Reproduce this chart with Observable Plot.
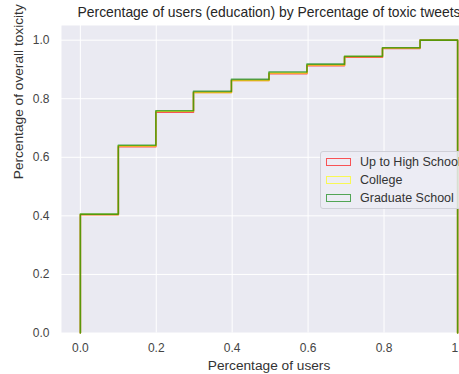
<!DOCTYPE html>
<html><head><meta charset="utf-8">
<script src="https://cdn.jsdelivr.net/npm/d3@7"></script>
<script src="https://cdn.jsdelivr.net/npm/@observablehq/plot@0.6"></script>
<style>
html,body{margin:0;padding:0;background:#fff;width:459px;height:374px;overflow:hidden;}
#wrap{position:relative;width:459px;height:374px;overflow:hidden;font-family:"Liberation Sans",Arial,sans-serif;}
#chart{width:478px;}
#chart svg{max-width:none !important;display:block;}
#legend{position:absolute;left:320px;top:151px;width:170px;height:58px;border:1px solid #d0d0d8;border-radius:3px;background:rgba(236,236,244,0.85);box-sizing:border-box;}
.row{position:absolute;left:0;height:18px;display:flex;align-items:center;font-size:12.5px;color:#333;white-space:nowrap;}
.sw{width:25px;height:8px;margin-left:5px;margin-right:9px;border:1.5px solid;box-sizing:border-box;}
</style>
</head><body>
<div id="wrap"><div id="chart"></div><div id="legend"></div></div>
<script>
const binEdges = [0, 0.1, 0.199, 0.298, 0.398, 0.497, 0.597, 0.696, 0.796, 0.895, 0.994];
const upToHighSchool = [0.404, 0.636, 0.754, 0.821, 0.862, 0.885, 0.913, 0.942, 0.972, 1.0];
const college        = [0.405, 0.639, 0.757, 0.821, 0.862, 0.888, 0.915, 0.944, 0.973, 1.0];
const graduateSchool = [0.406, 0.641, 0.759, 0.825, 0.866, 0.891, 0.918, 0.945, 0.974, 1.0];
const seriesNames = ["Up to High School", "College", "Graduate School"];
const seriesValues = [upToHighSchool, college, graduateSchool];
const seriesColors = ["red", "yellow", "green"];
const xTicks = [0, 0.2, 0.4, 0.6, 0.8, 1.0];
const yTicks = [0, 0.2, 0.4, 0.6, 0.8, 1.0];
const titleText = "Percentage of users (education) by Percentage of toxic tweets";
const xLabel = "Percentage of users";
const yLabel = "Percentage of overall toxicity";

const rows = [];
seriesValues.forEach((vals, s) => {
  const name = seriesNames[s];
  rows.push({series: name, x: binEdges[0], y: 0});
  vals.forEach((v, i) => rows.push({series: name, x: binEdges[i], y: v}));
  rows.push({series: name, x: binEdges[binEdges.length - 1], y: vals[vals.length - 1]});
  rows.push({series: name, x: binEdges[binEdges.length - 1], y: 0});
});

const chart = Plot.plot({
  width: 478,
  height: 374,
  marginLeft: 61,
  marginRight: 2,
  marginTop: 25,
  marginBottom: 41.5,
  style: {fontFamily: "'Liberation Sans', Arial, sans-serif", fontSize: "12px", color: "#444", background: "transparent", overflow: "visible", maxWidth: "none"},
  x: {domain: [-0.0497, 1.0437], ticks: xTicks, tickFormat: d3.format(".1f"), tickSize: 0, tickPadding: 10, label: null},
  y: {domain: [0, 1.05], ticks: yTicks, tickFormat: d3.format(".1f"), tickSize: 0, tickPadding: 12, label: null},
  color: {domain: seriesNames, range: seriesColors},
  marks: [
    Plot.frame({fill: "#EAEAF2", stroke: null}),
    Plot.ruleX(xTicks, {stroke: "white", strokeWidth: 1}),
    Plot.ruleY(yTicks, {stroke: "white", strokeWidth: 1}),
    Plot.line(rows, {x: "x", y: "y", z: "series", stroke: "series", curve: "step-after", strokeWidth: 1.6, strokeOpacity: 0.65}),
    Plot.text([titleText], {frameAnchor: "top", dy: -13, fontSize: 13.9, fill: "#262626", lineAnchor: "middle"}),
    Plot.text([xLabel], {frameAnchor: "bottom", dy: 33, fontSize: 13.7, fill: "#333", lineAnchor: "middle"}),
    Plot.text([yLabel], {frameAnchor: "left", dx: -43, rotate: -90, fontSize: 13.7, fill: "#333", lineAnchor: "middle"})
  ]
});
document.getElementById("chart").appendChild(chart);

const legend = document.getElementById("legend");
const legendColors = ["rgba(255,0,0,0.65)", "rgba(255,255,0,0.65)", "rgba(0,128,0,0.65)"];
seriesNames.forEach((name, i) => {
  const r = document.createElement("div");
  r.className = "row";
  r.style.top = (1 + i * 18) + "px";
  const sw = document.createElement("div");
  sw.className = "sw";
  sw.style.borderColor = legendColors[i];
  const t = document.createElement("span");
  t.textContent = name;
  r.appendChild(sw); r.appendChild(t);
  legend.appendChild(r);
});
</script>
</body></html>
